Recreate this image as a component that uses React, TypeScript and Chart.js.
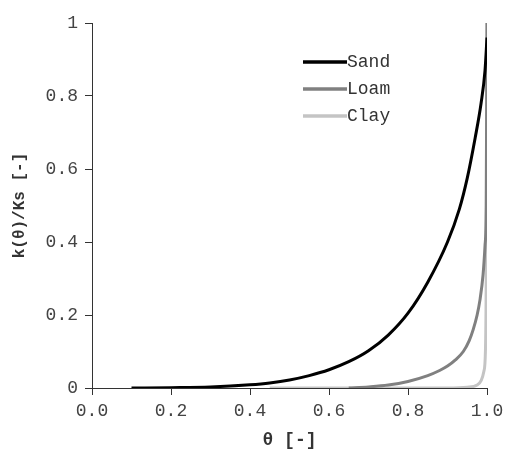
import React, { useEffect, useRef } from "react";
import { Chart, registerables } from "chart.js";

Chart.register(...registerables);

const sandX = [0.10, 0.20, 0.30, 0.40, 0.45, 0.50, 0.55, 0.60, 0.65, 0.70, 0.75, 0.80, 0.85, 0.90, 0.93, 0.95, 0.97, 0.985, 0.995, 1.0];
const sandY = [0, 0.001, 0.003, 0.009, 0.014, 0.022, 0.034, 0.05, 0.072, 0.102, 0.145, 0.205, 0.29, 0.4, 0.49, 0.575, 0.685, 0.78, 0.87, 0.96];

const loamX = [0.65, 0.70, 0.75, 0.80, 0.85, 0.88, 0.90, 0.92, 0.94, 0.955, 0.965, 0.975, 0.982, 0.99, 0.995, 0.998, 1.0];
const loamY = [0, 0.003, 0.008, 0.018, 0.034, 0.048, 0.06, 0.077, 0.1, 0.13, 0.16, 0.2, 0.24, 0.31, 0.39, 0.5, 1.0];

const clayX = [0.45, 0.90, 0.95, 0.975, 0.985, 0.992, 0.996, 0.998, 1.0];
const clayY = [0, 0, 0.002, 0.008, 0.02, 0.045, 0.1, 0.3, 1.0];

const seriesNames = ["Sand", "Loam", "Clay"];
const seriesColors = ["#000000", "#808080", "#c4c4c4"];
const xTicks = [0, 0.2, 0.4, 0.6, 0.8, 1.0];
const yTicks = [0, 0.2, 0.4, 0.6, 0.8, 1];

const MONO = "'Liberation Mono', 'Courier New', monospace";

const toPts = (xs: number[], ys: number[]) => xs.map((x, i) => ({ x, y: ys[i] }));

const legendPlugin = {
  id: "insideLegend",
  afterDatasetsDraw(chart: any) {
    const ctx = chart.ctx;
    ctx.save();
    chart.data.datasets.forEach((ds: any, i: number) => {
      const y = 62 + i * 27;
      ctx.strokeStyle = ds.borderColor;
      ctx.lineWidth = 3.5;
      ctx.beginPath();
      ctx.moveTo(303, y);
      ctx.lineTo(347, y);
      ctx.stroke();
      ctx.fillStyle = "#333";
      ctx.font = `18px ${MONO}`;
      ctx.textBaseline = "middle";
      ctx.textAlign = "left";
      ctx.fillText(ds.label, 347, y);
    });
    ctx.restore();
  },
};

export default function App() {
  const ref = useRef<HTMLCanvasElement>(null);
  useEffect(() => {
    document.body.style.margin = "0";
    const data = [toPts(sandX, sandY), toPts(loamX, loamY), toPts(clayX, clayY)];
    const chart = new Chart(ref.current!, {
      type: "line",
      data: {
        datasets: seriesNames.map((name, i) => ({
          label: name,
          data: data[i],
          borderColor: seriesColors[i],
          borderWidth: 3,
          pointRadius: 0,
          cubicInterpolationMode: "monotone" as const,
          fill: false,
        })),
      },
      options: {
        animation: false,
        responsive: false,
        maintainAspectRatio: false,
        layout: { padding: { top: 23, right: 19, left: 0, bottom: 0 } },
        plugins: { legend: { display: false }, tooltip: { enabled: false } },
        scales: {
          x: {
            type: "linear",
            min: 0,
            max: 1,
            afterBuildTicks: (s: any) => { s.ticks = xTicks.map((v) => ({ value: v })); },
            afterFit: (s: any) => { s.height = 63; s.paddingLeft = 0; s.paddingRight = 0; },
            ticks: {
              color: "#444",
              font: { family: MONO, size: 18 },
              padding: 5,
              maxRotation: 0,
              callback: (v: any) => Number(v).toFixed(1),
            },
            grid: { display: true, drawOnChartArea: false, drawTicks: true, tickLength: 7, color: "#333" },
            border: { display: true, color: "#333", width: 1 },
            title: {
              display: true,
              text: "θ [-]",
              color: "#333",
              font: { family: MONO, size: 18, weight: "bold" },
              padding: { top: 0, bottom: 0 },
            },
          },
          y: {
            type: "linear",
            min: 0,
            max: 1,
            afterBuildTicks: (s: any) => { s.ticks = yTicks.map((v) => ({ value: v })); },
            afterFit: (s: any) => { s.width = 92; s.paddingTop = 0; s.paddingBottom = 0; },
            ticks: {
              color: "#444",
              font: { family: MONO, size: 18 },
              padding: 7,
              callback: (v: any) => String(Number(v)),
            },
            grid: { display: true, drawOnChartArea: false, drawTicks: true, tickLength: 7, color: "#333" },
            border: { display: true, color: "#333", width: 1 },
            title: {
              display: true,
              text: "k(θ)/Ks [-]",
              color: "#333",
              font: { family: MONO, size: 16, weight: "bold" },
              padding: { top: 10, bottom: 0 },
            },
          },
        },
      },
      plugins: [legendPlugin],
    });
    return () => chart.destroy();
  }, []);
  return (
    <div style={{ position: "relative", width: 506, height: 451 }}>
      <canvas ref={ref} width={506} height={451} style={{ display: "block" }} />
    </div>
  );
}
